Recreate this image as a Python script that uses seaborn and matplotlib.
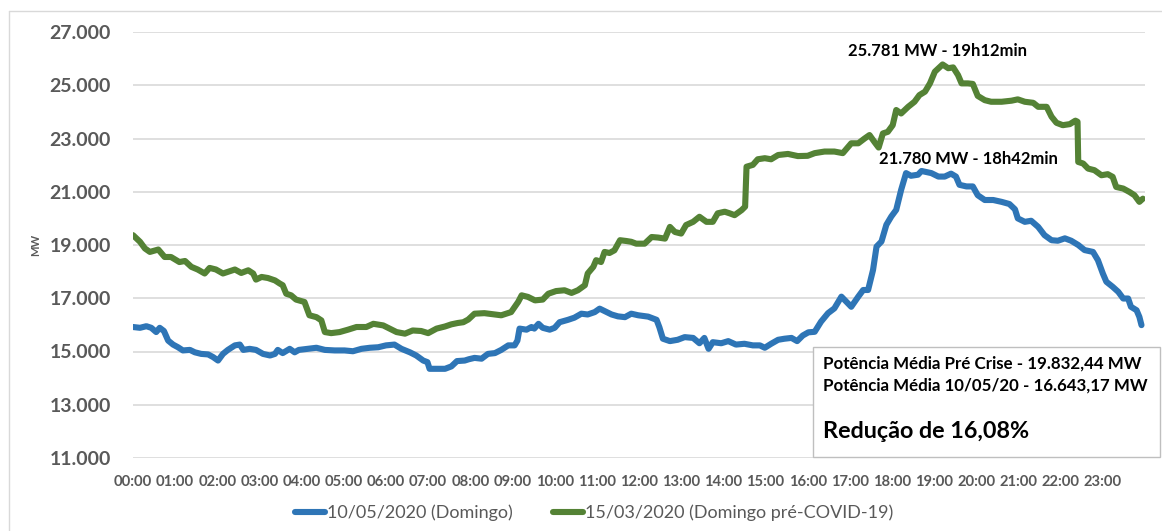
import matplotlib
matplotlib.use("Agg")
import matplotlib.pyplot as plt
import seaborn as sns
import pandas as pd
from matplotlib.lines import Line2D
from matplotlib.patches import Rectangle
from matplotlib.ticker import FuncFormatter

# ---------------- data ----------------
series_names = ["10/05/2020 (Domingo)", "15/03/2020 (Domingo pré-COVID-19)"]

blue_times = ["00:00", "00:10", "00:19", "00:26", "00:33", "00:38", "00:44", "00:50", "00:57", "01:04",
              "01:11", "01:21", "01:28", "01:37", "01:47", "01:54", "02:01", "02:08", "02:15", "02:25",
              "02:32", "02:37", "02:46", "02:55", "03:05", "03:15", "03:22", "03:26", "03:33", "03:43",
              "03:50", "03:56", "04:09", "04:21", "04:33", "04:47", "05:01", "05:13", "05:25", "05:37",
              "05:49", "06:00", "06:12", "06:22", "06:34", "06:43", "06:53", "06:59", "07:02", "07:12",
              "07:24", "07:33", "07:41", "07:52", "07:58", "08:06", "08:16", "08:25", "08:35", "08:44",
              "08:54", "09:03", "09:07", "09:10", "09:20", "09:27", "09:31", "09:37", "09:43", "09:53",
              "10:00", "10:07", "10:19", "10:28", "10:38", "10:47", "10:57", "11:04", "11:11", "11:21",
              "11:30", "11:40", "11:49", "11:59", "12:13", "12:25", "12:29", "12:34", "12:44", "12:55",
              "13:05", "13:17", "13:26", "13:33", "13:39", "13:45", "13:57", "14:07", "14:18", "14:30",
              "14:42", "14:52", "14:59", "15:08", "15:18", "15:27", "15:37", "15:45", "15:53", "16:01",
              "16:10", "16:19", "16:29", "16:38", "16:48", "16:55", "17:02", "17:12", "17:19", "17:26",
              "17:33", "17:38", "17:45", "17:52", "17:59", "18:06", "18:13", "18:20", "18:27", "18:37",
              "18:42", "18:56", "19:06", "19:15", "19:24", "19:31", "19:36", "19:46", "19:55", "20:02",
              "20:12", "20:24", "20:36", "20:47", "20:55", "20:59", "21:09", "21:18", "21:28", "21:37",
              "21:47", "21:56", "22:06", "22:15", "22:25", "22:34", "22:46", "22:53", "23:00", "23:05",
              "23:14", "23:22", "23:29", "23:36", "23:40", "23:48", "23:52", "23:55"]
blue_mw = [15920, 15890, 15950, 15890, 15730, 15890, 15770, 15410, 15260, 15160,
           15040, 15060, 14970, 14910, 14890, 14790, 14660, 14910, 15060, 15230,
           15260, 15060, 15100, 15060, 14910, 14850, 14910, 15060, 14940, 15100,
           14970, 15060, 15100, 15140, 15060, 15040, 15040, 15010, 15100, 15140,
           15160, 15230, 15260, 15100, 14970, 14850, 14660, 14600, 14350, 14350,
           14350, 14440, 14640, 14660, 14710, 14760, 14730, 14910, 14940, 15060,
           15230, 15230, 15410, 15860, 15820, 15920, 15860, 16040, 15890, 15820,
           15890, 16100, 16190, 16270, 16420, 16390, 16480, 16610, 16520, 16390,
           16320, 16290, 16420, 16360, 16310, 16190, 15910, 15480, 15390, 15440,
           15540, 15510, 15310, 15510, 15100, 15350, 15310, 15390, 15260, 15290,
           15230, 15230, 15140, 15290, 15440, 15480, 15510, 15390, 15600, 15720,
           15740, 16120, 16440, 16620, 17060, 16870, 16680, 17060, 17310, 17310,
           18060, 18940, 19130, 19760, 20070, 20320, 21070, 21700, 21600, 21640,
           21780, 21700, 21570, 21570, 21680, 21570, 21260, 21200, 21200, 20870,
           20690, 20690, 20620, 20540, 20340, 20000, 19870, 19910, 19680, 19370,
           19180, 19160, 19250, 19160, 19000, 18810, 18740, 18430, 17930, 17620,
           17430, 17240, 16990, 16990, 16680, 16550, 16300, 15990]

green_times = ["00:00", "00:10", "00:17", "00:24", "00:36", "00:45", "00:54", "01:06", "01:14", "01:23",
               "01:32", "01:42", "01:49", "01:58", "02:08", "02:15", "02:25", "02:34", "02:44", "02:51",
               "02:55", "03:03", "03:12", "03:22", "03:29", "03:33", "03:38", "03:45", "03:52", "04:04",
               "04:11", "04:21", "04:28", "04:33", "04:42", "04:54", "05:06", "05:18", "05:32", "05:42",
               "05:56", "06:05", "06:15", "06:27", "06:38", "06:50", "07:00", "07:12", "07:24", "07:33",
               "07:42", "07:50", "07:57", "08:06", "08:20", "08:35", "08:44", "08:58", "09:08", "09:13",
               "09:22", "09:32", "09:43", "09:51", "10:02", "10:14", "10:24", "10:33", "10:43", "10:47",
               "10:55", "10:59", "11:06", "11:11", "11:18", "11:25", "11:33", "11:42", "11:49", "11:56",
               "12:08", "12:18", "12:27", "12:37", "12:44", "12:51", "13:00", "13:07", "13:17", "13:26",
               "13:36", "13:45", "13:52", "14:02", "14:09", "14:16", "14:26", "14:31", "14:33", "14:42",
               "14:49", "14:59", "15:08", "15:18", "15:32", "15:46", "16:00", "16:10", "16:24", "16:38",
               "16:50", "17:02", "17:12", "17:21", "17:28", "17:35", "17:41", "17:47", "17:54", "18:01",
               "18:06", "18:13", "18:23", "18:32", "18:39", "18:47", "18:54", "19:01", "19:12", "19:20",
               "19:27", "19:34", "19:39", "19:48", "19:55", "20:02", "20:12", "20:21", "20:36", "20:50",
               "20:59", "21:09", "21:21", "21:28", "21:40", "21:47", "21:54", "22:03", "22:13", "22:21",
               "22:24", "22:25", "22:32", "22:39", "22:48", "22:58", "23:07", "23:14", "23:19", "23:29",
               "23:38", "23:45", "23:52", "23:57"]
green_mw = [19370, 19120, 18870, 18740, 18830, 18550, 18550, 18360, 18400, 18180,
            18080, 17930, 18140, 18080, 17930, 17990, 18080, 17950, 18050, 17930,
            17700, 17800, 17760, 17670, 17550, 17490, 17170, 17110, 16950, 16860,
            16360, 16290, 16170, 15730, 15690, 15730, 15820, 15920, 15920, 16040,
            15980, 15860, 15730, 15670, 15790, 15770, 15690, 15860, 15940, 16020,
            16070, 16100, 16200, 16420, 16440, 16390, 16360, 16480, 16860, 17110,
            17050, 16920, 16950, 17170, 17270, 17300, 17200, 17300, 17490, 17930,
            18180, 18430, 18360, 18740, 18700, 18800, 19180, 19150, 19120, 19050,
            19050, 19300, 19280, 19240, 19680, 19490, 19430, 19750, 19870, 20060,
            19870, 19870, 20190, 20250, 20190, 20120, 20310, 20440, 21940, 22010,
            22220, 22260, 22220, 22380, 22420, 22340, 22350, 22450, 22510, 22510,
            22450, 22820, 22820, 23000, 23130, 22870, 22660, 23190, 23250, 23500,
            24070, 23940, 24190, 24380, 24630, 24760, 25070, 25510, 25781, 25640,
            25670, 25380, 25070, 25070, 25050, 24600, 24440, 24380, 24380, 24420,
            24470, 24380, 24340, 24190, 24190, 23820, 23590, 23500, 23540, 23670,
            23630, 22120, 22060, 21870, 21810, 21620, 21660, 21560, 21180, 21120,
            20990, 20870, 20620, 20740]

hour_labels = [f"{h:02d}:00" for h in range(24)]
y_ticks = [11000, 13000, 15000, 17000, 19000, 21000, 23000, 25000, 27000]

green_peak = ("19:12", 25781, "25.781 MW - 19h12min")
blue_peak = ("18:42", 21780, "21.780 MW - 18h42min")
box_lines = ["Potência Média Pré Crise - 19.832,44 MW",
             "Potência Média 10/05/20 - 16.643,17 MW",
             "Redução de 16,08%"]

colors = {series_names[0]: "#2E75B6", series_names[1]: "#548235"}


def to_min(t):
    h, m = t.split(":")
    return int(h) * 60 + int(m)


df = pd.concat([
    pd.DataFrame({"t": [to_min(t) for t in blue_times], "MW": blue_mw, "serie": series_names[0]}),
    pd.DataFrame({"t": [to_min(t) for t in green_times], "MW": green_mw, "serie": series_names[1]}),
])

# ---------------- figure ----------------
sns.set_theme(style="white")
plt.rcParams["font.family"] = ["Lato", "DejaVu Sans"]

W, H = 1162, 531
fig = plt.figure(figsize=(W / 100, H / 100), dpi=100)
ax = fig.add_axes([133 / W, 1 - 458 / H, (1145 - 133) / W, (458 - 32) / H])

sns.lineplot(data=df, x="t", y="MW", hue="serie", palette=colors, ax=ax,
             linewidth=4.4, sort=True, estimator=None, legend=True,
             solid_joinstyle="round", solid_capstyle="round")

ax.set_xlim(0, 1440)
ax.set_ylim(11000, 27000)
ax.set_xticks([60 * h for h in range(24)])
ax.set_xticklabels(hour_labels)
ax.set_yticks(y_ticks)
ax.yaxis.set_major_formatter(FuncFormatter(lambda v, p: f"{v:,.0f}".replace(",", ".")))
ax.grid(axis="y", color="#d9d9d9", linewidth=1.2)
ax.grid(axis="x", visible=False)
ax.set_axisbelow(True)
for s in ax.spines.values():
    s.set_visible(False)
ax.tick_params(axis="both", length=0)
ax.tick_params(axis="y", pad=16, labelsize=14, labelcolor="#595959")
ax.tick_params(axis="x", pad=12, labelsize=10.6, labelcolor="#595959")
for lab in ax.get_yticklabels() + ax.get_xticklabels():
    lab.set_fontweight("bold")
ax.set_xlabel("")
ax.set_ylabel("MW", fontsize=8, color="#595959", fontweight="bold", labelpad=6)

# annotations
ax.annotate(green_peak[2], xy=(to_min(green_peak[0]), green_peak[1]), xytext=(-4, 9.5),
            textcoords="offset points", ha="center", va="center",
            fontsize=12, fontweight="bold", color="black")
ax.annotate(blue_peak[2], xy=(to_min(blue_peak[0]), blue_peak[1]), xytext=(34, 8.6),
            textcoords="offset points", ha="center", va="center",
            fontsize=12, fontweight="bold", color="black")

# legend
handles, labels = ax.get_legend_handles_labels()
ax.get_legend().remove()
leg = fig.legend(handles, labels, loc="center", bbox_to_anchor=(594 / W, 1 - 513 / H),
                 ncol=2, frameon=False, fontsize=13, handlelength=1.7,
                 handletextpad=0.1, columnspacing=2.2, labelcolor="#595959")
for h in leg.get_lines():
    h.set_linewidth(4.4)

# text box
fig.patches.append(Rectangle((813 / W, 1 - 457 / H), 347 / W, 110 / H, transform=fig.transFigure,
                             facecolor="white", edgecolor="#bfbfbf", linewidth=1, zorder=5))
fig.text(823 / W, 1 - 364 / H, box_lines[0], ha="left", va="center", fontsize=12.2,
         fontweight="bold", color="black", zorder=6)
fig.text(823 / W, 1 - 386 / H, box_lines[1], ha="left", va="center", fontsize=12.2,
         fontweight="bold", color="black", zorder=6)
fig.text(823 / W, 1 - 432 / H, box_lines[2], ha="left", va="center", fontsize=16.8,
         fontweight="bold", color="black", zorder=6)

# outer chart border (left and top edges visible)
fig.add_artist(Line2D([9 / W, 9 / W], [0, 1 - 11 / H], transform=fig.transFigure, color="#d9d9d9", lw=1))
fig.add_artist(Line2D([9 / W, 1], [1 - 11 / H, 1 - 11 / H], transform=fig.transFigure, color="#d9d9d9", lw=1))

fig.savefig("out.png", dpi=100)
